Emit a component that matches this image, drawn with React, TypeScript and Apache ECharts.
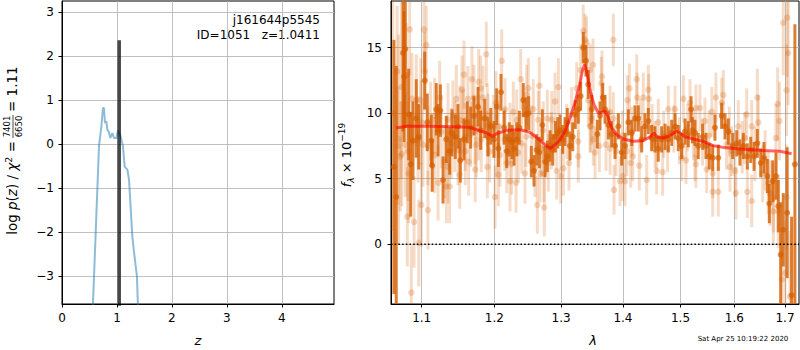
import React, { useEffect, useRef } from 'react';
import * as echarts from 'echarts';

// ---------- left panel: log p(z) ----------
const zValues = [0.545, 0.564, 0.673, 0.716, 0.745, 0.764, 0.782, 0.806, 0.825, 0.855, 0.88, 0.916, 0.946, 0.99, 1.018, 1.06, 1.11, 1.14, 1.19, 1.22, 1.28, 1.32, 1.364, 1.38, 1.385];
const logPz = [-4.2, -3.61, -0.05, 0.4, 0.82, 0.82, 0.48, 0.52, 0.33, 0.27, 0.14, 0.25, 0.14, 0.14, 0.31, 0.21, -0.05, -0.51, -0.58, -0.81, -2.1, -2.55, -3.0, -3.61, -4.2];
const zBest = 1.0411;
const zBestTop = 2.36;
const leftXTicks = [0, 1, 2, 3, 4];
const leftYTicks = [-3, -2, -1, 0, 1, 2, 3];

// ---------- right panel: spectrum ----------
const rightXTicks = [1.1, 1.2, 1.3, 1.4, 1.5, 1.6, 1.7];
const rightYTicks = [0, 5, 10, 15];

// [lambda, flux, error] — faint points
const lightPoints: number[][] = [
  [1.0625, 10, 9], [1.07, 8, 8], [1.0735, 12, 7],
  [1.0843, 16.4, 3.5], [1.103, 16.4, 3.0], [1.1061, 15.2, 3.0], [1.068, 13.2, 5], [1.0799, 12.9, 4], [1.104, 13.2, 3],
  [1.0873, 11.1, 3.5], [1.0929, 11.0, 3.5], [1.0987, 11.0, 3.2], [1.124, 11.2, 2.8], [1.1466, 11.1, 2.6], [1.1572, 12.95, 2.6],
  [1.1544, 11.8, 2.6], [1.1683, 12.6, 2.5], [1.1777, 12.4, 2.5], [1.1806, 11.9, 2.5], [1.1627, 11.1, 2.5], [1.1711, 11.2, 2.5],
  [1.1885, 14.5, 2.5], [1.19, 9.9, 2.4], [1.1838, 11.2, 2.4], [1.191, 9.1, 2.4], [1.0689, 7.5, 4.5], [1.0741, 6.9, 4],
  [1.0786, 7.6, 4], [1.0821, 7.1, 3.8], [1.0952, 8.0, 3.3], [1.1017, 7.6, 3.2], [1.1083, 7.5, 3.0], [1.1172, 6.8, 2.9],
  [1.1218, 4.7, 2.9], [1.133, 4.4, 2.8], [1.1375, 4.4, 2.8], [1.1308, 6.3, 2.8], [1.1489, 7.2, 2.7], [1.159, 7.1, 2.6],
  [1.1637, 6.3, 2.6], [1.1729, 5.7, 2.5], [1.1744, 7.6, 2.5], [1.19, 5.9, 2.4], [1.1934, 7.1, 2.4], [1.0995, 3.0, 3.2],
  [1.1083, 2.6, 3.0], [1.0812, 2.1, 3.8], [1.09, 1.7, 3.5], [1.0961, 0.1, 3.3], [1.0864, -3.7, 3.6], [1.1119, 9.4, 3.0],
  [1.1262, 8.6, 2.8], [1.1352, 9.5, 2.8], [1.142, 9.8, 2.7], [1.1513, 9.5, 2.6], [1.1558, 9.2, 2.6], [1.159, 8.2, 2.6],
  [1.1665, 8.4, 2.5], [1.1729, 8.6, 2.5], [1.1777, 8.9, 2.5], [1.1814, 8.0, 2.5], [1.1443, 8.2, 2.7], [1.1398, 7.7, 2.7],
  [1.1513, 5.3, 2.6], [1.1352, 5.9, 2.8], [1.1172, 9.8, 2.9], [1.0722, 6.7, 4.2], [1.083, 5.4, 3.8], [1.0995, 9.3, 3.2],
  [1.2107, 14.0, 2.4], [1.2386, 12.6, 2.3], [1.2499, 11.9, 2.3], [1.2665, 12.1, 2.2], [1.2958, 12.0, 2.2], [1.2475, 11.4, 2.3],
  [1.2906, 10.9, 2.2], [1.2024, 10.8, 2.4], [1.2155, 10.3, 2.4], [1.2277, 10.1, 2.3], [1.2574, 10.3, 2.3], [1.2788, 9.6, 2.2],
  [1.2855, 9.5, 2.2], [1.1987, 9.0, 2.4], [1.2059, 9.0, 2.4], [1.2327, 9.5, 2.3], [1.265, 9.5, 2.2], [1.2726, 8.7, 2.2],
  [1.2228, 8.5, 2.3], [1.2464, 8.2, 2.3], [1.2035, 7.5, 2.4], [1.2082, 6.8, 2.4], [1.218, 6.2, 2.3], [1.2253, 6.1, 2.3],
  [1.235, 7.0, 2.3], [1.2449, 5.4, 2.3], [1.26, 5.8, 2.2], [1.2676, 5.4, 2.2], [1.2736, 5.4, 2.2], [1.2803, 6.2, 2.2],
  [1.2932, 5.6, 2.2], [1.2994, 5.2, 2.1], [1.3035, 5.8, 2.1], [1.3124, 6.2, 2.1], [1.3271, 6.7, 2.0], [1.2228, 4.8, 2.3],
  [1.2317, 4.7, 2.3], [1.2059, 5.3, 2.4], [1.2011, 3.6, 2.4], [1.2635, 3.0, 2.2], [1.2741, 2.8, 2.2], [1.3271, 7.85, 2.0],
  [1.3088, 8.6, 2.1], [1.3166, 9.9, 2.1], [1.3246, 11.9, 2.0], [1.3308, 13.3, 2.0], [1.335, 16.3, 2.0], [1.3377, 15.6, 2.0],
  [1.3404, 15.4, 2.0], [1.3458, 13.3, 2.0], [1.3469, 9.0, 2.0], [1.3512, 8.0, 2.0], [1.343, 11.0, 2.0],
  [1.215, 8.0, 2.4], [1.24, 7.7, 2.3], [1.255, 8.3, 2.3], [1.285, 7.9, 2.2], [1.27, 7.3, 2.2],
  [1.384, 15.6, 2.0], [1.3508, 13.7, 2.0], [1.3653, 12.8, 2.0], [1.3642, 12.3, 2.0], [1.4233, 12.6, 1.9], [1.4109, 11.9, 1.9],
  [1.4432, 11.8, 1.9], [1.4075, 11.0, 1.9], [1.424, 11.2, 1.9], [1.4346, 11.2, 1.9], [1.444, 11.1, 1.9], [1.5051, 11.1, 1.8],
  [1.5171, 10.8, 1.8], [1.4782, 10.3, 1.8], [1.4902, 10.3, 1.8], [1.3485, 9.6, 2.0], [1.3785, 10.1, 2.0], [1.384, 9.6, 2.0],
  [1.4605, 9.3, 1.8], [1.3458, 9.0, 2.0], [1.3719, 7.6, 2.0], [1.361, 7.5, 2.0], [1.354, 7.0, 2.0], [1.3785, 7.3, 2.0],
  [1.3884, 7.1, 1.9], [1.4064, 7.1, 1.9], [1.4165, 6.7, 1.9], [1.4131, 6.2, 1.9], [1.4277, 6.0, 1.9], [1.4577, 5.6, 1.8],
  [1.4682, 5.5, 1.8], [1.5022, 6.6, 1.8], [1.5099, 6.4, 1.8], [1.3951, 4.8, 1.9], [1.4035, 4.8, 1.9], [1.3996, 5.2, 1.9],
  [1.4404, 4.9, 1.9], [1.3851, 4.15, 1.9],
  [1.415, 8.6, 1.9], [1.45, 8.9, 1.8], [1.47, 8.4, 1.8], [1.488, 8.8, 1.8], [1.43, 9.2, 1.9], [1.399, 8.3, 1.9],
  [1.455, 7.6, 1.8], [1.477, 7.3, 1.8], [1.498, 7.9, 1.8], [1.513, 8.9, 1.8],
  [1.6965, 16.9, 4], [1.7045, 17.3, 4.5], [1.7065, 14.6, 4], [1.7033, 11.75, 3.5], [1.6851, 10.7, 2.8], [1.6889, 9.4, 3],
  [1.6818, 8.1, 2.6], [1.6446, 11.2, 2.2], [1.565, 11.2, 1.9], [1.579, 11.4, 1.9], [1.5758, 10.8, 1.9], [1.528, 10.4, 1.8],
  [1.5354, 10.4, 1.8], [1.5574, 10.1, 1.9], [1.6238, 9.9, 2.0], [1.6336, 9.0, 2.0], [1.6075, 9.0, 2.0], [1.6466, 9.3, 2.1],
  [1.5231, 8.5, 1.8], [1.5446, 9.4, 1.8], [1.5903, 8.6, 1.9], [1.5262, 6.6, 1.8], [1.528, 6.1, 1.8], [1.5477, 5.7, 1.8],
  [1.5589, 5.4, 1.9], [1.5916, 5.9, 1.9], [1.6011, 5.6, 2.0], [1.5589, 4.0, 1.9], [1.5695, 4.0, 1.9], [1.603, 3.9, 2.0],
  [1.625, 4.0, 2.0], [1.6336, 3.3, 2.0], [1.6552, 5.4, 2.2], [1.6664, 4.7, 2.4], [1.6698, 3.9, 2.5], [1.6765, 2.5, 2.6],
  [1.6864, 2.5, 2.8], [1.6765, 3.5, 2.6], [1.7033, 3.6, 4], [1.7, -2.2, 4], [1.6935, -2.7, 3.5], [1.7102, -4.0, 5],
  [1.54, 7.8, 1.8], [1.552, 8.3, 1.9], [1.585, 7.6, 1.9], [1.615, 7.4, 2.0], [1.64, 6.9, 2.1], [1.66, 6.4, 2.3],
  [1.62, 8.1, 2.0], [1.595, 7.1, 1.9],
];

// [lambda, flux, error] — dark points
const darkPoints: number[][] = [
  [1.064, 5.9, 9.7], [1.067, 3.6, 10], [1.0757, 14.6, 6], [1.077, 12.8, 5], [1.0786, 14.9, 6], [1.083, 9.9, 3.5],
  [1.0856, 6.1, 4], [1.0886, 7.9, 3], [1.0929, 9.6, 3], [1.0961, 8.2, 2.5], [1.104, 12.5, 2.2], [1.1074, 9.3, 2.2],
  [1.1127, 7.9, 2.0], [1.114, 6.0, 2.0], [1.1194, 10.3, 2.0], [1.1218, 8.7, 2.0], [1.1249, 10.2, 2.0], [1.1285, 4.9, 1.8],
  [1.133, 8.0, 1.8], [1.1375, 7.1, 1.8], [1.1407, 8.5, 1.8], [1.1452, 8.2, 1.7], [1.1489, 9.0, 1.7], [1.1521, 6.4, 1.7],
  [1.1572, 8.0, 1.6], [1.1618, 9.3, 1.6], [1.1665, 8.9, 1.6], [1.1711, 9.8, 1.5], [1.1768, 10.5, 1.5], [1.1806, 8.7, 1.5],
  [1.1863, 9.6, 1.5], [1.191, 8.2, 1.5], [1.1949, 9.0, 1.4], [1.1996, 8.0, 1.4], [1.2035, 10.5, 1.4], [1.2059, 7.3, 1.4],
  [1.2097, 11.6, 1.4], [1.2141, 8.9, 1.3], [1.218, 7.1, 1.3], [1.2218, 8.0, 1.3], [1.2258, 7.8, 1.3], [1.2287, 7.3, 1.3],
  [1.2327, 8.0, 1.3], [1.2365, 8.9, 1.3], [1.2424, 11.0, 1.3], [1.2464, 9.9, 1.3], [1.2505, 10.0, 1.3], [1.2544, 6.3, 1.2],
  [1.2585, 5.6, 1.2], [1.2625, 7.2, 1.2], [1.2665, 7.0, 1.2], [1.2711, 9.1, 1.2], [1.2752, 6.3, 1.2], [1.2788, 6.7, 1.2],
  [1.2829, 7.5, 1.2], [1.2871, 7.2, 1.2], [1.2911, 8.2, 1.2], [1.2948, 8.5, 1.2], [1.2983, 8.7, 1.2], [1.3025, 8.0, 1.1],
  [1.3061, 8.6, 1.1], [1.3097, 9.3, 1.1], [1.3139, 7.5, 1.1], [1.3182, 8.2, 1.1], [1.3223, 9.9, 1.1], [1.3271, 10.3, 1.1],
  [1.3308, 11.3, 1.1], [1.335, 15.0, 1.2], [1.3393, 14.0, 1.2], [1.343, 12.2, 1.1], [1.3485, 10.3, 1.1], [1.3576, 8.4, 1.1],
  [1.3621, 9.8, 1.1], [1.3665, 11.2, 1.1], [1.3703, 10.3, 1.1], [1.3757, 9.1, 1.1], [1.3813, 8.4, 1.0], [1.3868, 7.5, 1.0],
  [1.3923, 9.0, 1.0], [1.3979, 7.0, 1.0], [1.4035, 7.5, 1.0], [1.4091, 9.3, 1.0], [1.4148, 8.5, 1.0], [1.4204, 9.6, 1.0],
  [1.426, 9.6, 1.0], [1.4318, 8.0, 1.0], [1.4375, 9.0, 1.0], [1.4432, 9.4, 1.0], [1.449, 8.1, 1.0], [1.4548, 8.0, 1.0],
  [1.4605, 7.3, 1.0], [1.4665, 8.0, 1.0], [1.4723, 8.2, 1.0], [1.4782, 8.0, 1.0], [1.4842, 8.5, 1.0], [1.4902, 9.0, 1.0],
  [1.496, 8.1, 1.0], [1.5022, 7.5, 1.0], [1.5081, 8.6, 1.0], [1.514, 8.4, 1.0], [1.519, 10.3, 1.0], [1.5215, 8.7, 1.0],
  [1.5262, 8.5, 1.0], [1.5322, 7.5, 1.0], [1.5403, 8.2, 1.0], [1.5464, 7.5, 1.0], [1.5526, 6.7, 1.0], [1.5589, 6.6, 1.0],
  [1.5632, 8.9, 1.0], [1.5695, 6.6, 1.0], [1.5758, 9.8, 1.0], [1.5821, 9.0, 1.0], [1.5884, 8.6, 1.0], [1.5968, 7.5, 1.0],
  [1.6045, 7.7, 1.0], [1.6107, 7.0, 1.0], [1.6172, 7.5, 1.0], [1.625, 6.7, 1.0], [1.6316, 7.2, 1.0], [1.6381, 6.7, 1.1],
  [1.6446, 7.7, 1.1], [1.6513, 6.2, 1.1], [1.6578, 6.6, 1.2], [1.6644, 5.2, 1.3], [1.6684, 3.1, 1.5], [1.6752, 4.8, 1.6],
  [1.6818, 5.2, 1.8], [1.6864, 2.9, 2.0], [1.6912, -0.8, 4.0], [1.6965, 1.1, 2.8], [1.7045, 2.4, 5.0], [1.7135, -3.9, 6.0],
  [1.7203, 6.1, 10.7],
];

// model spectrum
const modelLam = [1.0667, 1.0804, 1.111, 1.1655, 1.1749, 1.1891, 1.1977, 1.2035, 1.218, 1.2375, 1.2524, 1.265, 1.2752, 1.2829, 1.2906, 1.2983, 1.3061, 1.3139, 1.3218, 1.3287, 1.3334, 1.3372, 1.3404, 1.3458, 1.3523, 1.3593, 1.3649, 1.3703, 1.3748, 1.3813, 1.3896, 1.4007, 1.4175, 1.4346, 1.4461, 1.453, 1.4587, 1.4692, 1.4812, 1.4931, 1.4991, 1.5081, 1.5231, 1.5415, 1.5601, 1.579, 1.6107, 1.6565, 1.6898, 1.7135];
const modelFlux = [8.87, 9.0, 9.0, 8.92, 8.74, 8.49, 8.23, 8.44, 8.69, 8.74, 8.54, 8.03, 7.6, 7.29, 7.6, 7.98, 8.62, 9.64, 10.79, 12.06, 13.2, 13.72, 13.2, 11.8, 10.66, 10.02, 10.07, 10.15, 9.76, 8.87, 8.36, 8.03, 7.85, 7.9, 8.19, 8.49, 8.19, 8.11, 8.29, 8.62, 8.49, 8.19, 8.03, 7.85, 7.52, 7.39, 7.27, 7.16, 7.09, 6.91];

const LAM_MIN = 1.0603;
const LAM_MAX = 1.7288;
const FLUX_MIN = -4.57;
const FLUX_MAX = 18.57;

const FONT = 'DejaVu Sans';
const ORANGE = '213,94,0';

const minus = (v: number) => (v < 0 ? '\u2212' + Math.abs(v) : String(v));

function errRender(color: string, width: number) {
  return (_params: any, api: any) => {
    const x = api.value(0);
    const y = api.value(1);
    const e = api.value(2);
    const p1 = api.coord([x, y - e]);
    const p2 = api.coord([x, y + e]);
    return {
      type: 'line',
      shape: { x1: p1[0], y1: p1[1], x2: p2[0], y2: p2[1] },
      style: { stroke: color, lineWidth: width },
    };
  };
}

function buildOption() {
  const axisCommon = {
    axisLine: { show: true, onZero: false, lineStyle: { color: '#000', width: 1 } },
    splitLine: { show: true, lineStyle: { color: '#b0b0b0', width: 0.8 } },
  };
  const labelCommon = { color: '#000', fontSize: 12, fontFamily: FONT };

  const light = lightPoints.map((p) => [Math.log(p[0]), p[1], p[2]]);
  const dark = darkPoints.map((p) => [Math.log(p[0]), p[1], p[2]]);

  return {
    animation: false,
    backgroundColor: '#fff',
    textStyle: { fontFamily: FONT },
    grid: [
      { left: 62, top: 1, width: 272, height: 303, show: true, borderColor: '#000', borderWidth: 1 },
      { left: 391, top: 1, width: 408, height: 303, show: true, borderColor: '#000', borderWidth: 1 },
    ],
    xAxis: [
      {
        type: 'value', gridIndex: 0, min: 0, max: 4.95, ...axisCommon,
        axisTick: { show: true, customValues: leftXTicks, length: 3.5, lineStyle: { color: '#000' } },
        axisLabel: { ...labelCommon, customValues: leftXTicks, margin: 8, formatter: minus },
      },
      {
        type: 'value', gridIndex: 1, min: Math.log(LAM_MIN), max: Math.log(LAM_MAX), ...axisCommon,
        axisTick: { show: true, customValues: rightXTicks.map(Math.log), length: 3.5, lineStyle: { color: '#000' } },
        axisLabel: { ...labelCommon, customValues: rightXTicks.map(Math.log), margin: 8, formatter: (v: number) => Math.exp(v).toFixed(1) },
      },
    ],
    yAxis: [
      {
        type: 'value', gridIndex: 0, min: -3.63, max: 3.25, ...axisCommon,
        axisTick: { show: true, customValues: leftYTicks, length: 3.5, lineStyle: { color: '#000' } },
        axisLabel: { ...labelCommon, customValues: leftYTicks, margin: 8, formatter: minus },
      },
      {
        type: 'value', gridIndex: 1, min: FLUX_MIN, max: FLUX_MAX, ...axisCommon,
        axisTick: { show: true, customValues: rightYTicks, length: 3.5, lineStyle: { color: '#000' } },
        axisLabel: { ...labelCommon, customValues: rightYTicks, margin: 9, formatter: minus },
      },
    ],
    series: [
      {
        type: 'line', xAxisIndex: 0, yAxisIndex: 0, symbol: 'none', clip: true,
        data: zValues.map((z, i) => [z, logPz[i]]),
        lineStyle: { color: 'rgba(31,119,180,0.5)', width: 2 },
      },
      {
        type: 'line', xAxisIndex: 0, yAxisIndex: 0, symbol: 'none', clip: true,
        data: [[zBest, -4], [zBest, zBestTop]],
        lineStyle: { color: 'rgba(0,0,0,0.72)', width: 3.5 },
      },
      {
        type: 'custom', xAxisIndex: 1, yAxisIndex: 1, clip: true,
        data: light, encode: { x: 0, y: 1 },
        renderItem: errRender(`rgba(${ORANGE},0.22)`, 3),
      },
      {
        type: 'scatter', xAxisIndex: 1, yAxisIndex: 1, clip: true,
        data: light.map((p) => [p[0], p[1]]), symbolSize: 6.5,
        itemStyle: { color: `rgba(${ORANGE},0.3)` },
      },
      {
        type: 'custom', xAxisIndex: 1, yAxisIndex: 1, clip: true,
        data: dark, encode: { x: 0, y: 1 },
        renderItem: errRender(`rgba(${ORANGE},0.8)`, 3),
      },
      {
        type: 'scatter', xAxisIndex: 1, yAxisIndex: 1, clip: true,
        data: dark.map((p) => [p[0], p[1]]), symbolSize: 6,
        itemStyle: { color: `rgba(${ORANGE},0.85)` },
      },
      {
        type: 'line', xAxisIndex: 1, yAxisIndex: 1, symbol: 'none', clip: true,
        data: modelLam.map((l, i) => [Math.log(l), modelFlux[i]]),
        lineStyle: { color: 'rgba(255,0,0,0.6)', width: 3 },
      },
      {
        type: 'line', xAxisIndex: 1, yAxisIndex: 1, symbol: 'none', clip: true,
        data: [[Math.log(LAM_MIN), 0], [Math.log(LAM_MAX), 0]],
        lineStyle: { color: '#000', width: 1.5, type: [1.5, 2.2] },
      },
    ],
    graphic: [
      { type: 'text', x: 320, y: 20, style: { text: 'j161644p5545', align: 'right', verticalAlign: 'middle', fontSize: 12, fontFamily: FONT, fill: '#000' } },
      { type: 'text', x: 320, y: 35, style: { text: 'ID=1051\u00a0\u00a0\u00a0z=1.0411', align: 'right', verticalAlign: 'middle', fontSize: 12, fontFamily: FONT, fill: '#000' } },
      { type: 'text', x: 198, y: 340, style: { text: 'z', align: 'center', verticalAlign: 'middle', fontSize: 13, fontStyle: 'italic', fontFamily: FONT, fill: '#000' } },
      { type: 'text', x: 593, y: 340, style: { text: 'λ', align: 'center', verticalAlign: 'middle', fontSize: 13, fontStyle: 'italic', fontFamily: FONT, fill: '#000' } },
      { type: 'text', x: 743, y: 339, style: { text: 'Sat Apr 25 10:19:22 2020', align: 'center', verticalAlign: 'middle', fontSize: 7, fontFamily: FONT, fill: '#000' } },
      {
        type: 'group', x: 12, y: 155, rotation: Math.PI / 2,
        children: [
          {
            type: 'text', x: 14, y: 0,
            style: {
              text: '{a|log }{i|p}{a|(}{i|z}{a|) / }{i|χ}{s|2}{a| =}',
              align: 'right', verticalAlign: 'middle', fontFamily: FONT, fill: '#000',
              rich: {
                a: { fontSize: 13.5, fontFamily: FONT, lineHeight: 17 },
                i: { fontSize: 13.5, fontFamily: FONT, fontStyle: 'italic', lineHeight: 17 },
                s: { fontSize: 9.5, fontFamily: FONT, verticalAlign: 'top', lineHeight: 17 },
              },
            },
          },
          { type: 'text', x: 28.5, y: -0.5, style: { text: '7401', align: 'center', verticalAlign: 'bottom', fontSize: 8.5, fontFamily: FONT, fill: '#000' } },
          { type: 'line', shape: { x1: 17, y1: 1, x2: 40, y2: 1 }, style: { stroke: '#000', lineWidth: 0.7 } },
          { type: 'text', x: 28.5, y: 2.5, style: { text: '6650', align: 'center', verticalAlign: 'top', fontSize: 8.5, fontFamily: FONT, fill: '#000' } },
          { type: 'text', x: 43, y: 0, style: { text: '= 1.11', align: 'left', verticalAlign: 'middle', fontSize: 13.5, fontFamily: FONT, fill: '#000' } },
        ],
      },
      {
        type: 'group', x: 346, y: 155, rotation: Math.PI / 2,
        children: [
          {
            type: 'text', x: 0, y: 0,
            style: {
              text: '{i|f}{b|λ}{a| × 10}{s|−19}',
              align: 'center', verticalAlign: 'middle', fontFamily: FONT, fill: '#000',
              rich: {
                a: { fontSize: 13, fontFamily: FONT, lineHeight: 18 },
                i: { fontSize: 13, fontFamily: FONT, fontStyle: 'italic', lineHeight: 18 },
                b: { fontSize: 9, fontFamily: FONT, fontStyle: 'italic', verticalAlign: 'bottom', lineHeight: 18 },
                s: { fontSize: 9, fontFamily: FONT, verticalAlign: 'top', lineHeight: 18 },
              },
            },
          },
        ],
      },
    ],
  };
}

export default function App() {
  const ref = useRef<HTMLDivElement>(null);
  useEffect(() => {
    if (!ref.current) return;
    const chart = echarts.init(ref.current, null, { renderer: 'svg' });
    chart.setOption(buildOption() as any);
    return () => chart.dispose();
  }, []);
  return (
    <div
      ref={ref}
      style={{ position: 'absolute', left: 0, top: 0, width: 800, height: 350, background: '#fff' }}
    />
  );
}
